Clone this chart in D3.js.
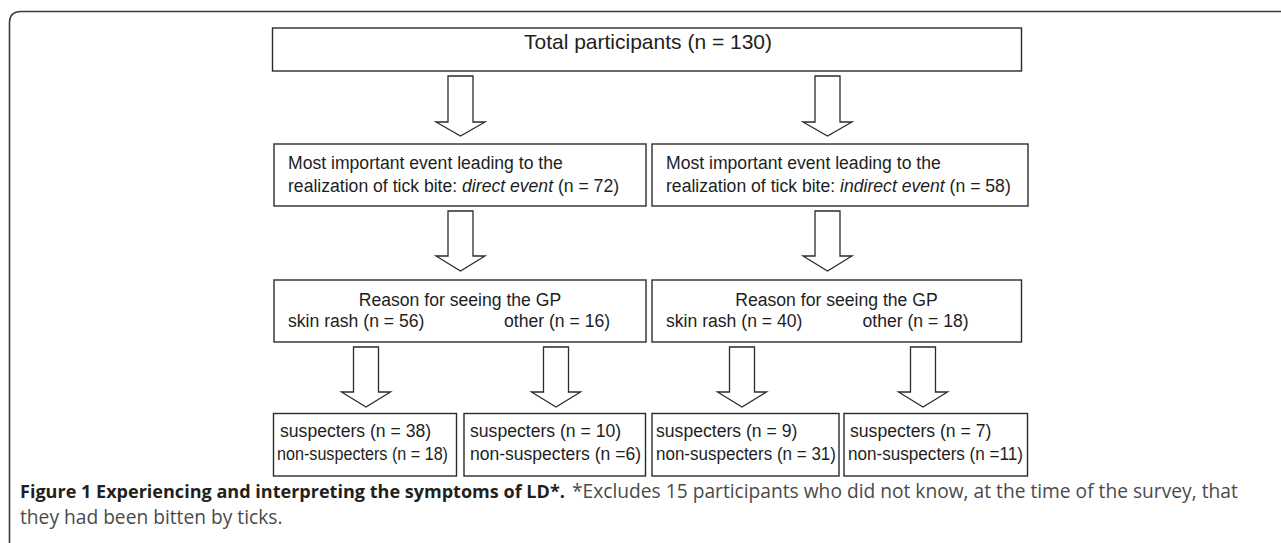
<!DOCTYPE html>
<html>
<head>
<meta charset="utf-8">
<script src="https://cdn.jsdelivr.net/npm/d3@7"></script>
<style>
  html, body { margin: 0; padding: 0; background: #fff; }
  svg { display: block; }
</style>
</head>
<body>
<svg id="chart" width="1281" height="543"></svg>
<script>
// ---------------- data ----------------
const totalN = 130;
const eventTypes = ["direct event", "indirect event"];
const eventN = [72, 58];
const reasonTitle = "Reason for seeing the GP";
const reasonLabels = ["skin rash", "other"];
const reasonN = [[56, 16], [40, 18]];
const suspecterLabels = ["suspecters (n = 38)", "suspecters (n = 10)", "suspecters (n = 9)", "suspecters (n = 7)"];
const nonSuspecterLabels = ["non-suspecters (n = 18)", "non-suspecters (n =6)", "non-suspecters (n = 31)", "non-suspecters (n =11)"];
const captionBold = "Figure 1 Experiencing and interpreting the symptoms of LD*.";
const captionRest1 = "*Excludes 15 participants who did not know, at the time of the survey, that";
const captionLine2 = "they had been bitten by ticks.";

// ---------------- layout ----------------
const svg = d3.select("#chart");
const INK = "#2b2b2b";
const BOXFONT = "'Liberation Sans', Arial, Helvetica, sans-serif";

// outer frame (open at right and bottom)
svg.append("path")
  .attr("d", "M9.5,560 L9.5,23 Q9.5,11.5 21,11.5 L1290,11.5")
  .attr("fill", "none").attr("stroke", "#3a3a3a").attr("stroke-width", 1.6);

function box(x0, y0, x1, y1) {
  svg.append("rect").attr("x", x0).attr("y", y0)
    .attr("width", x1 - x0).attr("height", y1 - y0)
    .attr("fill", "#fff").attr("stroke", INK).attr("stroke-width", 1.4);
}
function arrow(cx, yTop, yHead, yTip) {
  const sw = 12.5, hw = 24.5;
  const pts = [[cx - sw, yTop], [cx + sw, yTop], [cx + sw, yHead], [cx + hw, yHead],
               [cx, yTip], [cx - hw, yHead], [cx - sw, yHead]];
  svg.append("path").attr("d", d3.line()(pts) + "Z")
    .attr("fill", "#fff").attr("stroke", INK).attr("stroke-width", 1.3)
    .attr("stroke-linejoin", "miter");
}
function text(x, y, str, size, anchor, width) {
  const t = svg.append("text").attr("x", x).attr("y", y)
    .attr("font-family", BOXFONT).attr("font-size", size)
    .attr("fill", "#1e1e1e").attr("text-anchor", anchor || "start").text(str);
  if (width) t.attr("textLength", width).attr("lengthAdjust", "spacingAndGlyphs");
  return t;
}

// level 0
box(272.5, 28, 1021.5, 71);
text(648, 48.5, `Total participants (n = ${totalN})`, 21, "middle");

// level 1 arrows
const colX = [460.5, 827.5];
colX.forEach(cx => arrow(cx, 76, 122, 136));

// level 1 boxes
const lvl1 = [[274, 646, 288], [652, 1028, 666]];
lvl1.forEach((b, i) => {
  box(b[0], 144, b[1], 206);
  text(b[2], 169, "Most important event leading to the", 17.6);
  const t = svg.append("text").attr("x", b[2]).attr("y", 192)
    .attr("font-family", BOXFONT).attr("font-size", 17.6).attr("fill", "#1e1e1e");
  t.append("tspan").text("realization of tick bite: ");
  t.append("tspan").attr("font-style", "italic").text(eventTypes[i]);
  t.append("tspan").text(` (n = ${eventN[i]})`);
});

// level 2 arrows
colX.forEach(cx => arrow(cx, 211, 256, 271));

// level 2 boxes
const lvl2 = [[274, 646, 460, 288, 504], [652, 1021.5, 836.5, 666, 862.5]];
lvl2.forEach((b, i) => {
  box(b[0], 280, b[1], 342);
  text(b[2], 306, reasonTitle, 17.6, "middle");
  text(b[3], 327, `${reasonLabels[0]} (n = ${reasonN[i][0]})`, 17.6);
  text(b[4], 327, `${reasonLabels[1]} (n = ${reasonN[i][1]})`, 17.6);
});

// level 3 arrows
const leafX = [366, 556, 742, 923];
leafX.forEach(cx => arrow(cx, 347, 392, 407));

// leaf boxes
const leaf = [
  [273.5, 456.5, 280, 277, 171],
  [464, 645.5, 470, 470, 171],
  [652, 839, 656, 656, 180],
  [844, 1027.5, 850, 848, 175]
];
leaf.forEach((b, i) => {
  box(b[0], 413.5, b[1], 476);
  text(b[2], 437, suspecterLabels[i], 17.6);
  text(b[3], 460, nonSuspecterLabels[i], 17.6, "start", b[4]);
});

// caption
const CAPFONT = "'Open Sans', 'Noto Sans', sans-serif";
function fitText(x, y, str, weight, fill, targetW) {
  const t = svg.append("text").attr("x", x).attr("y", y)
    .attr("font-family", CAPFONT).attr("font-size", 16)
    .attr("font-weight", weight).attr("fill", fill).text(str);
  const w = t.node().getComputedTextLength();
  t.attr("font-size", 16 * targetW / w);
  return 16 * targetW / w;
}
fitText(20, 498, captionBold, "bold", "#231f20", 545);
const fs = fitText(572, 498, captionRest1, "normal", "#4a4a4a", 666);
svg.append("text").attr("x", 20).attr("y", 524)
  .attr("font-family", CAPFONT).attr("font-size", fs)
  .attr("fill", "#4a4a4a").text(captionLine2);
</script>
</body>
</html>
